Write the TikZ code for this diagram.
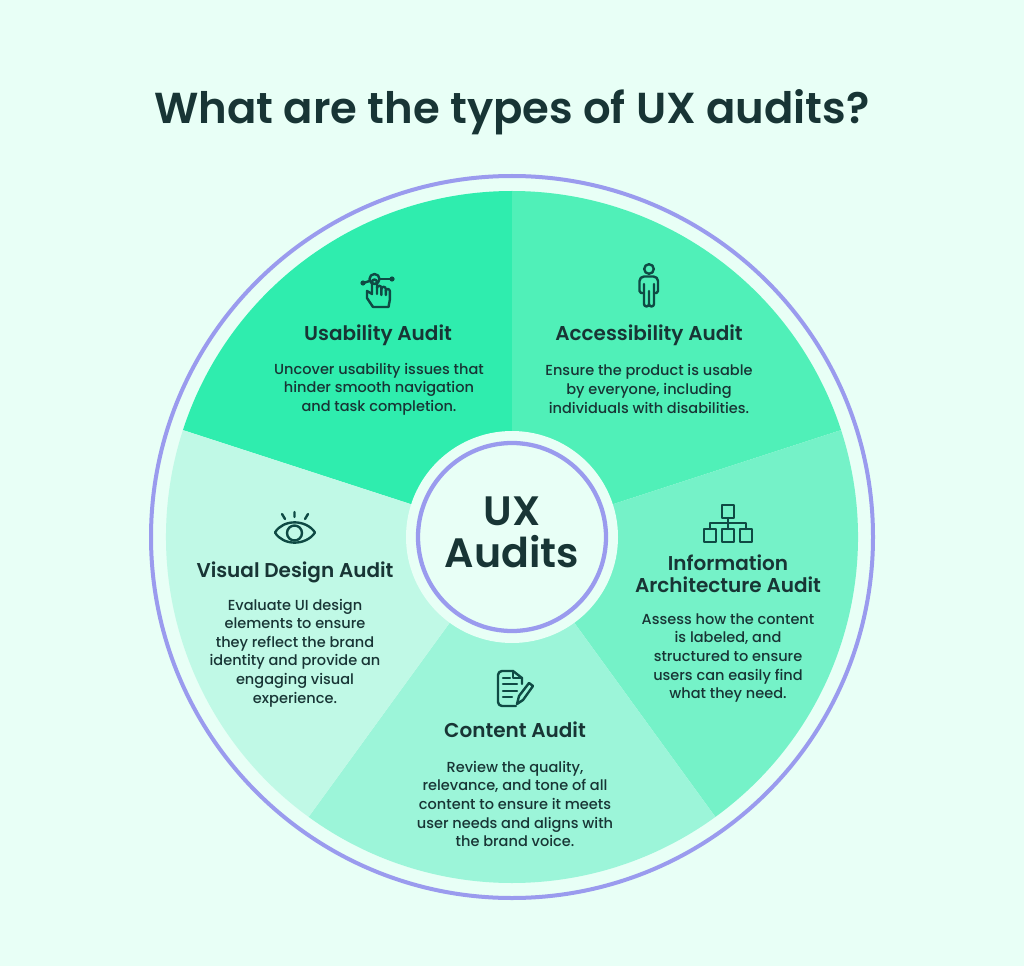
\documentclass[tikz,border=0pt]{standalone}
\usepackage{fontspec}
\setmainfont{Poppins}
\newfontfamily\medfont{Poppins Medium}
\newfontfamily\semifont{Poppins SemiBold}
\definecolor{bgc}{HTML}{E8FFF6}
\definecolor{segA}{HTML}{2FEDAE}
\definecolor{segB}{HTML}{50F0B8}
\definecolor{segC}{HTML}{75F2C8}
\definecolor{segD}{HTML}{9CF5D9}
\definecolor{segE}{HTML}{C0F9E6}
\definecolor{purp}{HTML}{9A9BEE}
\definecolor{ink}{HTML}{183535}
\definecolor{iconc}{HTML}{0F4A44}
\newcommand{\seg}[3]{\fill[#3] (512,537) -- ++(#1:346) arc[start angle=#1,end angle=#2,radius=346] -- cycle;}
\tikzset{
 heading/.style={font=\semifont\fontsize{15}{16.5}\selectfont,text=ink,align=center,inner sep=0},
 body/.style={font=\medfont\fontsize{10.9}{13.95}\selectfont,text=ink,align=center,inner sep=0},
 ico/.style={draw=iconc,line width=1.8pt,line cap=round,line join=round,fill=none}
}
\begin{document}
\begin{tikzpicture}[x=0.75pt,y=0.75pt,yscale=-1]
\fill[bgc] (0,0) rectangle (1024,966);
\useasboundingbox (0,0) rectangle (1024,966);
\node[font=\semifont\fontsize{32.5}{40}\selectfont,text=ink,inner sep=0] (title) at (512,112) {What are the types of UX audits?};
\begin{scope}[yscale=-1,shift={(0,-1074)}]
\seg{90}{162}{segA}
\seg{18}{90}{segB}
\seg{-54}{18}{segC}
\seg{-126}{-54}{segD}
\seg{162}{234}{segE}
\end{scope}
\draw[purp,line width=3pt] (512,537) circle (361);
\fill[bgc] (512,537) circle (106);
\draw[purp,line width=3.2pt,fill=bgc] (512,537) circle (94);
\node[font=\semifont\fontsize{30.8}{31.5}\selectfont,text=ink,align=center,inner sep=0] (center) at (512,532) {UX\\Audits};
\node[heading] (h1) at (378,335) {Usability Audit};
\node[body] (b1) at (379,389) {Uncover usability issues that\\hinder smooth navigation\\and task completion.};
\node[heading] (h2) at (649,335) {Accessibility Audit};
\node[body] (b2) at (649,389) {Ensure the product is usable\\by everyone, including\\individuals with disabilities.};
\node[heading] (h3) at (728,574) {Information\\Architecture Audit};
\node[body] (b3) at (728,658) {Assess how the content\\is labeled, and\\structured to ensure\\users can easily find\\what they need.};
\node[heading] (h4) at (515,730) {Content Audit};
\node[body] (b4) at (515,804) {Review the quality,\\relevance, and tone of all\\content to ensure it meets\\user needs and aligns with\\the brand voice.};
\node[heading] (h5) at (295,572) {Visual Design Audit};
\node[body] (b5) at (295,653) {Evaluate UI design\\elements to ensure\\they reflect the brand\\identity and provide an\\engaging visual\\experience.};
% usability icon
\draw[ico] (374.5,279) circle (5);
\draw[ico] (369.5,281) -- (365,282.5);
\draw[ico] (380,279) -- (390,279);
\fill[iconc] (363,283) circle (2.6) (392,279) circle (2.6);
\draw[ico] (373,307) -- (367,298) -- (367,291) -- (372,294) -- (372,282) arc[start angle=180,end angle=360,radius=2.5] -- (377,294);
\draw[ico] (377,288) arc[start angle=180,end angle=360,radius=2.2] -- (381.4,295);
\draw[ico] (381.4,289) arc[start angle=180,end angle=360,radius=2.2] -- (385.8,295);
\draw[ico] (385.8,291) arc[start angle=180,end angle=360,radius=2] -- (389.8,300) -- (388.5,307) -- (373,307);
% person icon
\draw[ico] (649,269) circle (4.8);
\draw[ico] (644,293) -- (641,293) -- (639.5,291) -- (639.5,281) arc[start angle=180,end angle=270,radius=4.5] -- (653.5,276.5) arc[start angle=270,end angle=360,radius=4.5] -- (658,291) -- (656.5,293) -- (654,293);
\draw[ico] (644,284) -- (644,304) arc[start angle=180,end angle=0,radius=2.5] -- (649,291) -- (649,304) arc[start angle=180,end angle=0,radius=2.5] -- (654,284);
% hierarchy icon
\draw[ico] (722,505) rectangle (734,518);
\draw[ico] (704,529) rectangle (716,542);
\draw[ico] (722,529) rectangle (734,542);
\draw[ico] (740,529) rectangle (752,542);
\draw[ico] (728,518) -- (728,529) (710,529) -- (710,523) -- (746,523) -- (746,529);
% document icon
\draw[ico] (522,684) -- (522,678) -- (513,671) -- (502,671) arc[start angle=270,end angle=180,radius=4] -- (498,702) arc[start angle=180,end angle=90,radius=4] -- (516,706);
\draw[ico] (513,671) -- (513,678) -- (522,678);
\draw[ico] (503,678) -- (510,678) (503,684) -- (517,684) (503,691) -- (517,691) (503,697) -- (512,697);
\draw[ico] (517,704) -- (519,696) -- (529,683) -- (533,686) -- (523,700) -- cycle;
% eye icon
\draw[ico] (275,532.5) .. controls (283,519) and (306,519) .. (315,532.5) .. controls (306,546) and (283,546) .. (275,532.5) -- cycle;
\draw[ico] (294.5,533) circle (7.5);
\draw[ico] (294.5,512) -- (294.5,517) (282,514) -- (285,519) (308,514) -- (305,519);
\end{tikzpicture}
\end{document}
